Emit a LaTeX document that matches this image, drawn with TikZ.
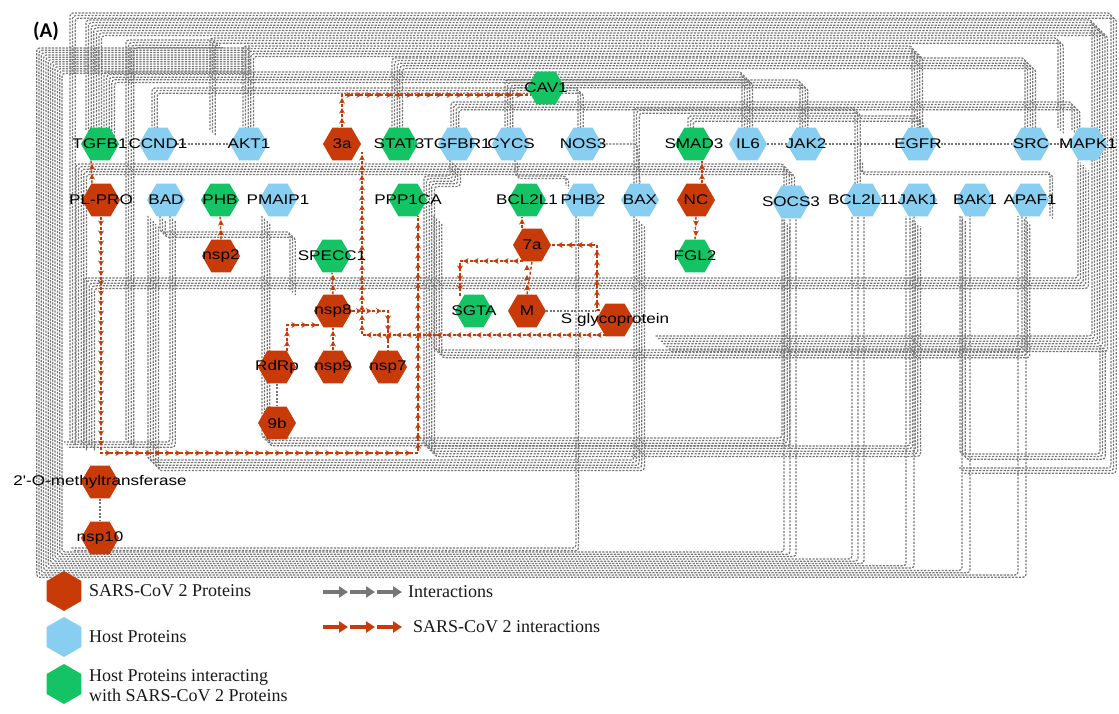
\documentclass[tikz,border=0pt]{standalone}
\usepackage{fontspec}
\usetikzlibrary{shapes.geometric,arrows.meta,calc}
\newfontfamily\nodefont[FakeStretch=1.22]{Liberation Sans}
\newfontfamily\legfont{Liberation Serif}
\newfontfamily\tagfont{Carlito}
\definecolor{vred}{RGB}{200,58,8}
\definecolor{hblue}{RGB}{135,206,240}
\definecolor{hgreen}{RGB}{20,196,100}
\definecolor{eg}{RGB}{118,118,118}
\pgfdeclarelayer{bg}
\pgfsetlayers{bg,main}
\newcommand\bd[2]{\foreach \k in {1,...,#1}{\draw[g,shift={({(\k-1)*2.6},{(\k-1)*2.6})}] #2;}}
% arrow heads along an axis-parallel red segment
\newcommand\rarr[4]{%
  \pgfmathsetmacro\rlen{abs(#3-#1)+abs(#4-#2)}%
  \pgfmathsetmacro\rdx{(#3-#1)/\rlen}%
  \pgfmathsetmacro\rdy{(#4-#2)/\rlen}%
  \pgfmathtruncatemacro\rn{max(1,(\rlen-2)/10)}%
  \foreach \i in {1,...,\rn}{%
    \draw[vred,line width=1.4pt,-{Stealth[length=5.5pt,width=5.8pt]}]
      ({#1+\rdx*(\i*10-5)},{#2+\rdy*(\i*10-5)}) -- ({#1+\rdx*(\i*10)},{#2+\rdy*(\i*10)});}}
\tikzset{
  hx/.style={regular polygon, regular polygon sides=6, minimum size=38pt, inner sep=0pt, draw=none},
  vr/.style={hx, fill=vred},
  hb/.style={hx, fill=hblue},
  hg/.style={hx, fill=hgreen},
  lb/.style={font=\nodefont\fontsize{14}{14}\selectfont, text=black, inner sep=0pt},
  g/.style={draw=eg, line width=1.25pt, dash pattern=on 2.2pt off 1.3pt, rounded corners=3pt},
  r/.style={draw=vred, line width=1.4pt, dash pattern=on 3pt off 2pt},
  lhx/.style={regular polygon, regular polygon sides=6, shape border rotate=90, minimum size=40pt, inner sep=0pt, draw=none},
  lt/.style={font=\legfont\fontsize{18}{20}\selectfont, anchor=west, inner sep=0pt, align=left, text=black!90},
}
\begin{document}
\begin{tikzpicture}[x=1pt,y=-1pt]
\path[use as bounding box] (0,0) rectangle (1119,714);
% ---------------- nodes
\node[hg,label={[lb]center:TGFB1}] (tgfb1) at (100,144) {};
\node[hb,label={[lb]center:CCND1}] (ccnd1) at (158,144) {};
\node[hb,label={[lb]center:AKT1}] (akt1) at (249,144) {};
\node[vr,label={[lb]center:3a}] (n3a) at (342,144) {};
\node[hg,label={[lb]center:STAT3}] (stat3) at (399,144) {};
\node[hb,label={[lb]center:TGFBR1}] (tgfbr1) at (457,144) {};
\node[hb,label={[lb]center:CYCS}] (cycs) at (511,144) {};
\node[hb,label={[lb]center:NOS3}] (nos3) at (583,144) {};
\node[hg,label={[lb]center:SMAD3}] (smad3) at (694,144) {};
\node[hb,label={[lb]center:IL6}] (il6) at (748,144) {};
\node[hb,label={[lb]center:JAK2}] (jak2) at (806,144) {};
\node[hb,label={[lb]center:EGFR}] (egfr) at (918,144) {};
\node[hb,label={[lb]center:SRC}] (src) at (1031,144) {};
\node[hb,label={[lb]center:MAPK1}] (mapk1) at (1088,144) {};
\node[hg,label={[lb]center:CAV1}] (cav1) at (546,88) {};
\node[vr,label={[lb]center:PL-PRO}] (plpro) at (101,200) {};
\node[hb,label={[lb]center:BAD}] (bad) at (166,200) {};
\node[hg,label={[lb]center:PHB}] (phb) at (220,200) {};
\node[hb,label={[lb]center:PMAIP1}] (pmaip1) at (278,200) {};
\node[hg,label={[lb]center:PPP1CA}] (ppp1ca) at (408,200) {};
\node[hg,label={[lb]center:BCL2L1}] (bcl2l1) at (527,200) {};
\node[hb,label={[lb]center:PHB2}] (phb2) at (583,200) {};
\node[hb,label={[lb]center:BAX}] (bax) at (640,200) {};
\node[vr,label={[lb]center:NC}] (nc) at (696,200) {};
\node[hb,label={[lb]center:SOCS3}] (socs3) at (791,202) {};
\node[hb,label={[lb]center:BCL2L11}] (bcl2l11) at (863,200) {};
\node[hb,label={[lb]center:JAK1}] (jak1) at (918,200) {};
\node[hb,label={[lb]center:BAK1}] (bak1) at (975,200) {};
\node[hb,label={[lb]center:APAF1}] (apaf1) at (1030,200) {};
\node[vr,label={[lb]center:nsp2}] (nsp2) at (221,256) {};
\node[hg,label={[lb]center:SPECC1}] (specc1) at (332,256) {};
\node[vr,label={[lb]center:7a}] (n7a) at (532,245) {};
\node[hg,label={[lb]center:FGL2}] (fgl2) at (695,256) {};
\node[vr,label={[lb]center:nsp8}] (nsp8) at (333,311) {};
\node[hg,label={[lb]center:SGTA}] (sgta) at (474,311) {};
\node[vr,label={[lb]center:M}] (m) at (527,311) {};
\node[vr,label={[lb]center:S glycoprotein}] (sgly) at (615,320) {};
\node[vr,label={[lb]center:RdRp}] (rdrp) at (277,367) {};
\node[vr,label={[lb]center:nsp9}] (nsp9) at (333,367) {};
\node[vr,label={[lb]center:nsp7}] (nsp7) at (388,367) {};
\node[vr,label={[lb]center:9b}] (n9b) at (277,423) {};
\node[vr,label={[lb]center:2'-O-methyltransferase}] (mtase) at (100,482) {};
\node[vr,label={[lb]center:nsp10}] (nsp10) at (100,538) {};
\node[font=\tagfont\bfseries\fontsize{21}{21}\selectfont, inner sep=0pt] (tag) at (46,31) {(A)};
% ---------------- edges
\begin{pgfonlayer}{bg}
\fill[white] (0,0) rectangle (1119,714);
% top bundles
\bd{3}{(70,440) -- (70,13) -- (1111,13) -- (1111,468) -- (958,468)}
\bd{7}{(86,130) -- (86,20) -- (1092,20) -- (1092,336) -- (655,336)}
\bd{3}{(210,130) -- (210,38) -- (1058,38) -- (1058,128)}
\bd{5}{(243,130) -- (243,46) -- (912,46) -- (912,130)}
\bd{5}{(392,130) -- (392,58) -- (1025,58) -- (1025,130)}
\bd{5}{(104,130) -- (104,72) -- (742,72) -- (742,130)}
\bd{3}{(152,130) -- (152,88) -- (578,88) -- (578,130)}
\bd{4}{(451,130) -- (451,102) -- (1072,102) -- (1072,130)}
\bd{4}{(505,130) -- (505,80) -- (800,80) -- (800,130)}
\bd{3}{(688,130) -- (688,116) -- (918,116) -- (918,130)}
\bd{4}{(126,440) -- (126,40) -- (215,40)}
% left frame and bottom band
\foreach \j in {0,...,11}{
  \pgfmathsetmacro\xl{62-2.3*\j}
  \pgfmathsetmacro\yb{552+2.3*\j}
  \pgfmathsetmacro\yt{48+2.3*(11-\j)}
  \pgfmathsetmacro\xr{{784,790,796,852,858,864,906,914,962,970,1018,1026}[\j]}
  \draw[g] (250,\yt) -- (\xl,\yt) -- (\xl,\yb) -- (\xr,\yb) -- (\xr,216);
}
% middle bands
\bd{5}{(76,440) -- (76,164) -- (784,164) -- (784,188)}
\bd{5}{(84,440) -- (84,278) -- (1078,278) -- (1078,160)}
\bd{5}{(450,160) -- (450,176) -- (424,176) -- (424,446) -- (910,446) -- (910,216)}
\bd{4}{(434,216) -- (434,350) -- (1022,350) -- (1022,216)}
\bd{5}{(634,216) -- (634,460) -- (148,460) -- (148,216)}
\bd{4}{(262,216) -- (262,438) -- (782,438) -- (782,218)}
\bd{3}{(170,216) -- (170,442) -- (64,442)}
\bd{3}{(960,216) -- (960,454) -- (1100,454) -- (1100,345)}
\bd{3}{(855,184) -- (855,108) -- (634,108) -- (634,184)}
\bd{2}{(576,216) -- (576,548) -- (70,548)}
\bd{3}{(160,216) -- (160,232) -- (290,232) -- (290,290)}
\bd{2}{(860,160) -- (860,172) -- (1050,172) -- (1050,216)}
\bd{2}{(515,160) -- (515,176) -- (566,176) -- (566,186)}
% simple host edges
\draw[g] (ccnd1) -- (akt1);
\draw[g] (il6) -- (jak2);
\draw[g] (jak2) -- (egfr);
\draw[g] (egfr) -- (src);
\draw[g] (src) -- (mapk1);
\draw[g] (nos3.east) -- (637,144) -- (bax.north);
% viral gray edges
\draw[g] (rdrp) -- (n9b);
\draw[g] (mtase) -- (nsp10);
\draw[g] (m.east) -- (sgly.west |- m.east);
% red edges (dashed lines)
\draw[r] ([xshift=-9pt]plpro.north) -- ([xshift=-9pt]tgfb1.south);
\draw[r] (plpro.south) -- (101,453) -- (418,453) -- (418,216);
\draw[r] (nsp2.north) -- (phb.south);
\draw[r] (n3a.north) -- (342,95) -- (531,95);
\draw[r] (nsp8.north) -- (specc1.south);
\draw[r] (287,351) -- (287,325) -- (321,325);
\draw[r] (nsp9.north) -- (nsp8.south);
\draw[r] (nsp8.east) -- (388,311) -- (nsp7.north);
\draw[r] (606,335) -- (362,335) -- (362,152);
\draw[r] (600,310) -- (597,310) -- (597,245) -- (n7a.east);
\draw[r] (m.north) -- (n7a.south);
\draw[r] (523,261) -- (460,261) -- (460,296);
\draw[r] ([xshift=-10pt]n7a.north) -- ([xshift=-5pt]bcl2l1.south);
\draw[r] ([xshift=6pt]nc.north) -- ([xshift=8pt]smad3.south);
\draw[r] (nc.south) -- (fgl2.north);
% red arrow heads
\rarr{92}{184}{92}{160}
\rarr{101}{216}{101}{453}
\rarr{101}{453}{418}{453}
\rarr{418}{453}{418}{216}
\rarr{221}{240}{221}{216}
\rarr{342}{128}{342}{95}
\rarr{342}{95}{531}{95}
\rarr{333}{295}{333}{272}
\rarr{287}{351}{287}{325}
\rarr{287}{325}{321}{325}
\rarr{333}{351}{333}{327}
\rarr{351.5}{311}{388}{311}
\rarr{388}{311}{388}{351}
\rarr{606}{335}{362}{335}
\rarr{362}{335}{362}{152}
\rarr{597}{310}{597}{245}
\rarr{597}{245}{550.5}{245}
\rarr{527}{295}{527}{261}
\rarr{523}{261}{460}{261}
\rarr{460}{261}{460}{296}
\rarr{522}{229}{522}{216}
\rarr{702}{184}{702}{160}
\rarr{696}{216}{696}{240}
\end{pgfonlayer}
% ---------------- legend
\node[lhx,fill=vred] (lred) at (64,591) {};
\node[lhx,fill=hblue] (lblue) at (64,637) {};
\node[lhx,fill=hgreen] (lgreen) at (64,684) {};
\node[lt] (tred) at (89,591) {SARS-CoV 2 Proteins};
\node[lt] (tblue) at (89,637) {Host Proteins};
\node[lt] (tgreen) at (89,686) {Host Proteins interacting\\with SARS-CoV 2 Proteins};
\foreach \i in {0,1,2}{
  \draw[eg, line width=3.5pt, -{Triangle[length=9pt,width=11pt]}] ({323+\i*27},592) -- ({348+\i*27},592);
  \draw[vred, line width=3.5pt, -{Triangle[length=9pt,width=11pt]}] ({323+\i*27},627) -- ({348+\i*27},627);
}
\node[lt] (tint) at (408,592) {Interactions};
\node[lt] (tsint) at (413,627) {SARS-CoV 2 interactions};
\end{tikzpicture}
\end{document}
